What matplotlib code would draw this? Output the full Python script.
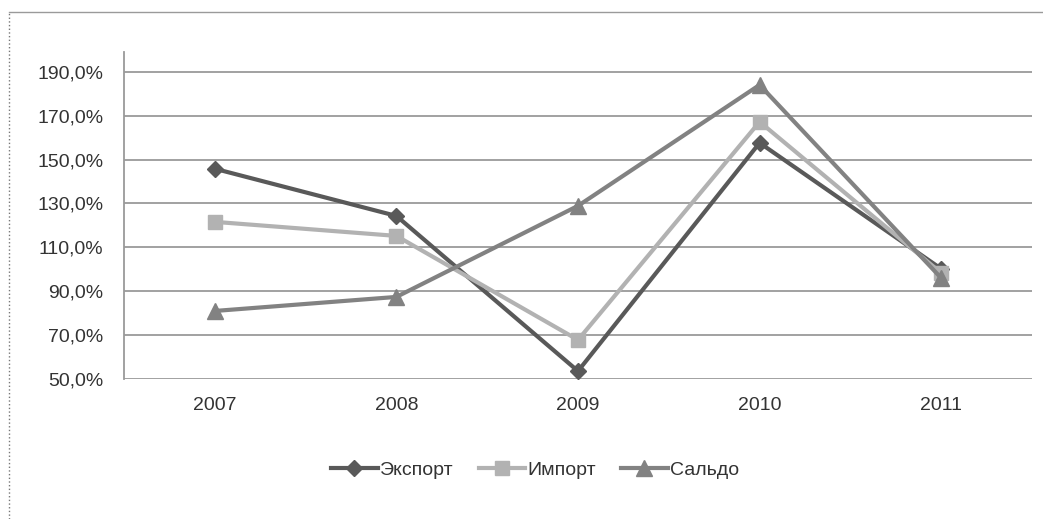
import matplotlib.pyplot as plt
from matplotlib.lines import Line2D
from matplotlib.ticker import FuncFormatter

plt.rcParams['font.family'] = ['Liberation Sans', 'DejaVu Sans']

years = ['2007', '2008', '2009', '2010', '2011']
export = [145.8, 124.3, 53.6, 157.6, 100.2]
imports = [121.6, 115.2, 67.8, 167.2, 98.3]
saldo = [81.0, 87.4, 128.9, 184.0, 96.0]
yticks = [50, 70, 90, 110, 130, 150, 170, 190]

fig = plt.figure(figsize=(10.43, 5.19), dpi=100)
ax = fig.add_axes([124 / 1043, 1 - 379 / 519, (1032 - 124) / 1043, (379 - 52) / 519])

x = range(len(years))
ax.plot(x, export, color='#595959', lw=3, marker='D', ms=8, label='Экспорт')
ax.plot(x, imports, color='#b2b2b2', lw=3, marker='s', ms=10, label='Импорт')
ax.plot(x, saldo, color='#828282', lw=3, marker='^', ms=11, label='Сальдо')

ax.set_xlim(-0.5, 4.5)
ax.set_ylim(50, 199)
ax.set_xticks(list(x))
ax.set_xticklabels(years)
ax.set_yticks(yticks)
ax.yaxis.set_major_formatter(FuncFormatter(lambda v, p: f'{v:.1f}%'.replace('.', ',')))
ax.grid(axis='y', color='#9a9a9a', lw=1.3)
ax.set_axisbelow(True)
for s in ['top', 'right', 'bottom']:
    ax.spines[s].set_visible(False)
ax.spines['left'].set_color('#9a9a9a')
ax.spines['left'].set_linewidth(1.3)
ax.tick_params(length=0, labelsize=14, colors='#333333')
ax.tick_params(axis='y', pad=15)
ax.tick_params(axis='x', pad=13)

handles = [
    Line2D([], [], color='#595959', lw=3, marker='D', ms=8),
    Line2D([], [], color='#b2b2b2', lw=3, marker='s', ms=10),
    Line2D([], [], color='#828282', lw=3, marker='^', ms=11),
]
fig.legend(handles, ['Экспорт', 'Импорт', 'Сальдо'], loc='center', bbox_to_anchor=(535 / 1043, 1 - 470 / 519),
           ncol=3, frameon=False, fontsize=14, handlelength=2.4, handletextpad=0.1, columnspacing=1.3,
           labelcolor='#333333')

# chart area border (top solid, left dotted)
fig.add_artist(Line2D([9 / 1043, 1], [1 - 12 / 519, 1 - 12 / 519], color='#9a9a9a', lw=1))
fig.add_artist(Line2D([9 / 1043, 9 / 1043], [0, 1 - 12 / 519], color='#777777', lw=1, ls=':'))

fig.savefig('out.png', dpi=100)
